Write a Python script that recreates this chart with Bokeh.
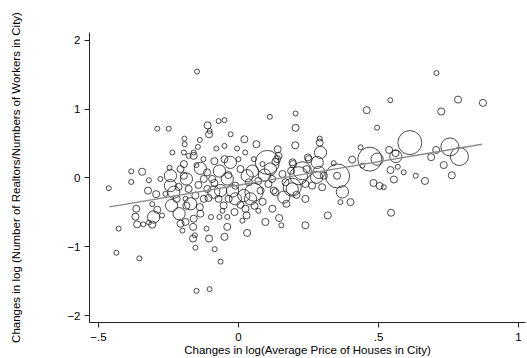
import numpy as np
from bokeh.plotting import figure
from bokeh.models import ColumnDataSource, FixedTicker
from bokeh.embed import file_html
from bokeh.resources import INLINE

# Changes in log(average house price) per city
price_chg = [
    -0.463, -0.428, -0.436, -0.354, -0.383, -0.344, -0.383, -0.290, -0.249, -0.320,
    -0.279, -0.246, -0.236, -0.323, -0.294, -0.365, -0.368, -0.362, -0.340, -0.320,
    -0.308, -0.303, -0.290, -0.273, -0.308, -0.243, -0.239, -0.212, -0.207, -0.148,
    -0.193, -0.192, -0.195, -0.178, -0.160, -0.145, -0.138, -0.110, -0.103, -0.105,
    -0.071, -0.050, -0.028, -0.050, -0.079, 0.021, -0.005, 0.024, 0.064, 0.112,
    0.204, 0.204, 0.203, 0.140, 0.103, 0.143, 0.132, 0.055, 0.193, 0.188,
    -0.154, -0.105, -0.085, -0.064, -0.050, -0.040, 0.031, 0.096, 0.145, 0.153,
    -0.098, -0.068, -0.040, -0.014, 0.025, 0.043, -0.011, -0.150, -0.103, -0.156,
    -0.162, -0.189, -0.160, -0.162, -0.171, -0.138, -0.124, -0.154, -0.178, -0.231,
    -0.243, -0.195, -0.136, -0.112, -0.124, -0.094, -0.088, -0.064, -0.160, -0.195,
    -0.029, -0.050, -0.040, 0.031, 0.037, -0.011, 0.019, 0.055, 0.079, 0.126,
    -0.035, -0.053, 0.029, 0.290, 0.290, 0.293, 0.248, 0.138, 0.195, 0.215,
    0.287, 0.305, 0.168, 0.192, 0.162, 0.132, 0.120, 0.239, 0.263, 0.299,
    0.239, 0.239, 0.319, 0.458, 0.542, 0.495, 0.612, 0.755, 0.789, 0.706,
    0.688, 0.733, 0.762, 0.666, 0.633, 0.590, 0.569, 0.555, 0.543, 0.545,
    0.562, 0.561, 0.538, 0.469, 0.495, 0.436, 0.442, 0.406, 0.482, 0.504,
    0.519, 0.400, 0.364, 0.354, 0.371, 0.340, 0.281, 0.279, 0.251, 0.228,
    0.192, 0.352, 0.724, 0.707, 0.784, 0.873,
    -0.207, -0.186, -0.143, -0.111, -0.086, -0.068, -0.036, -0.021, 0.007, 0.050,
    0.071, 0.093, 0.086, 0.057, 0.007, -0.071, -0.107, -0.136, -0.189, -0.214,
    -0.261, -0.186, 0.107, 0.157, 0.086, -0.086, -0.125, -0.150, 0.000, 0.171,
    0.207, 0.121, 0.071, -0.057, 0.114, 0.243, 0.014, -0.221, -0.200, -0.114,
]

# Changes in log(number of realtors / number of workers) per city
realtor_chg = [
    -0.149, -0.736, -1.087, -1.169, 0.097, 0.091, -0.058, 0.717, 0.717, -0.033,
    -0.014, 0.149, 0.371, -0.183, -0.235, -0.447, -0.563, -0.674, -0.674, -0.649,
    -0.678, -0.567, -0.462, -0.544, -0.380, -0.111, -0.400, -0.519, -0.664, 1.548,
    0.573, 0.491, 0.371, 0.322, 0.371, 0.452, 0.553, 0.765, 0.683, 0.635,
    0.827, 0.841, 0.635, 0.466, 0.429, 0.563, 0.429, 0.371, 0.491, 0.890,
    0.938, 0.729, 0.476, 0.418, 0.227, 0.322, 0.235, 0.274, 0.227, 0.105,
    -1.014, -0.880, -1.035, -1.216, -0.856, -0.711, -0.798, -0.639, -0.582, -0.688,
    -0.567, -0.567, -0.567, -0.495, -0.447, -0.303, -0.303, -1.641, -1.616, -0.833,
    -0.880, -0.639, -0.592, -0.711, -0.375, -0.423, -0.303, -0.255, -0.159, -0.206,
    0.033, 0.033, 0.140, 0.082, -0.014, -0.014, -0.206, -0.183, 0.322, 0.202,
    0.227, 0.274, -0.014, 0.033, -0.062, -0.111, -0.255, -0.206, -0.183, -0.183,
    -0.303, -0.400, -0.544, 0.573, 0.515, 0.371, 0.299, 0.274, 0.202, 0.033,
    0.082, 0.033, -0.062, -0.159, -0.278, -0.206, -0.014, -0.087, -0.111, -0.134,
    -0.303, -0.688, -0.544, 0.986, 1.130, 0.732, 0.515, 0.452, 0.313, 0.408,
    0.303, 0.188, 0.039, -0.043, 0.033, 0.082, 0.163, -0.022, 0.115, -0.505,
    0.313, 0.361, 0.408, 0.274, 0.274, 0.447, 0.180, 0.267, -0.072, -0.115,
    -0.134, -0.351, -0.351, 0.029, -0.202, 0.216, 0.227, 0.010, 0.274, 0.105,
    -0.134, 0.033, 0.967, 1.525, 1.140, 1.092,
    0.130, -0.014, -0.101, -0.159, -0.072, 0.101, 0.043, -0.188, 0.130, 0.101,
    -0.043, 0.043, -0.346, -0.404, -0.390, -0.303, -0.289, -0.519, -0.303, -0.130,
    -0.231, -0.404, -0.087, 0.058, 0.202, 0.245, 0.274, 0.188, 0.274, -0.375,
    -0.245, -0.447, -0.476, -0.476, 0.130, 0.130, -0.620, -0.303, -0.765, -0.736,
]

# City weight (size of the marker)
city_weight = [
    1, 1, 1, 1, 1, 2, 1, 1, 1, 1,
    1, 1, 1, 2, 2, 2, 2, 2, 1, 1,
    2, 6, 2, 1, 1, 6, 6, 6, 2, 1,
    1, 1, 1, 1, 1, 1, 1, 2, 1, 2,
    1, 1, 1, 1, 1, 2, 1, 1, 2, 1,
    1, 2, 2, 2, 23, 2, 2, 1, 2, 2,
    1, 2, 1, 1, 2, 2, 2, 2, 2, 1,
    1, 1, 1, 2, 2, 6, 6, 1, 1, 1,
    2, 2, 2, 2, 6, 2, 2, 2, 2, 6,
    6, 2, 6, 2, 2, 2, 6, 6, 2, 2,
    6, 2, 6, 6, 2, 2, 6, 13, 2, 2,
    2, 2, 2, 1, 2, 6, 2, 2, 2, 13,
    6, 2, 2, 6, 6, 2, 2, 2, 2, 2,
    2, 2, 2, 2, 1, 1, 23, 13, 13, 2,
    2, 2, 2, 2, 1, 1, 1, 2, 2, 2,
    6, 2, 2, 23, 6, 1, 1, 2, 2, 2,
    1, 2, 1, 23, 6, 1, 6, 6, 2, 13,
    13, 2, 2, 1, 2, 2,
    2, 6, 2, 2, 2, 6, 2, 6, 2, 6,
    2, 6, 2, 2, 2, 2, 2, 2, 1, 2,
    1, 2, 2, 2, 1, 2, 1, 1, 1, 2,
    2, 2, 1, 1, 6, 2, 1, 2, 1, 1,
]

# Fitted regression line (end points)
fit_x = [-0.46, 0.87]
fit_y = [-0.42, 0.49]

x_ticks = [-0.5, 0, 0.5, 1]
x_tick_labels = {-0.5: "\u2212.5", 0: "0", 0.5: ".5", 1: "1"}
y_ticks = [-2, -1, 0, 1, 2]
y_tick_labels = {-2: "\u22122", -1: "\u22121", 0: "0", 1: "1", 2: "2"}

sizes = 5.0 * np.sqrt(np.array(city_weight, dtype=float))
src = ColumnDataSource(dict(x=price_chg, y=realtor_chg, s=sizes))

p = figure(width=527, height=358, x_range=(-0.532, 1.025), y_range=(-2.101, 2.1155),
           output_backend="svg", toolbar_location=None,
           min_border_left=89, min_border_right=2, min_border_top=32, min_border_bottom=34)

p.scatter("x", "y", size="s", source=src, fill_color=None,
          line_color="#1e1e1e", line_width=0.8)
p.line(fit_x, fit_y, line_color="#8a8a8a", line_width=1.4)

p.grid.visible = False
p.outline_line_color = None
p.background_fill_color = "white"
p.border_fill_color = "white"

font = "Liberation Sans"
for ax in (p.xaxis[0], p.yaxis[0]):
    ax.axis_line_color = "#222222"
    ax.axis_line_width = 1
    ax.major_tick_line_color = "#222222"
    ax.major_tick_out = 5
    ax.major_tick_in = 0
    ax.minor_tick_line_color = None
    ax.major_label_text_font = font
    ax.major_label_text_font_size = "11.5px"
    ax.major_label_text_color = "black"
    ax.axis_label_text_font = font
    ax.axis_label_text_font_size = "11.5px"
    ax.axis_label_text_font_style = "normal"
    ax.axis_label_text_color = "black"

p.xaxis.ticker = FixedTicker(ticks=x_ticks)
p.xaxis.major_label_overrides = x_tick_labels
p.xaxis.axis_label = "Changes in log(Average Price of Houses in City)"
p.xaxis.major_label_standoff = 5
p.xaxis.axis_label_standoff = 0

p.yaxis.ticker = FixedTicker(ticks=y_ticks)
p.yaxis.major_label_overrides = y_tick_labels
p.yaxis.major_label_orientation = "horizontal"
p.yaxis.axis_label = "Changes in log (Number of Realtors/Numbers of Workers in City)"
p.yaxis.major_label_standoff = 4
p.yaxis.axis_label_standoff = 42

open("out.html", "w").write(file_html(p, INLINE))
